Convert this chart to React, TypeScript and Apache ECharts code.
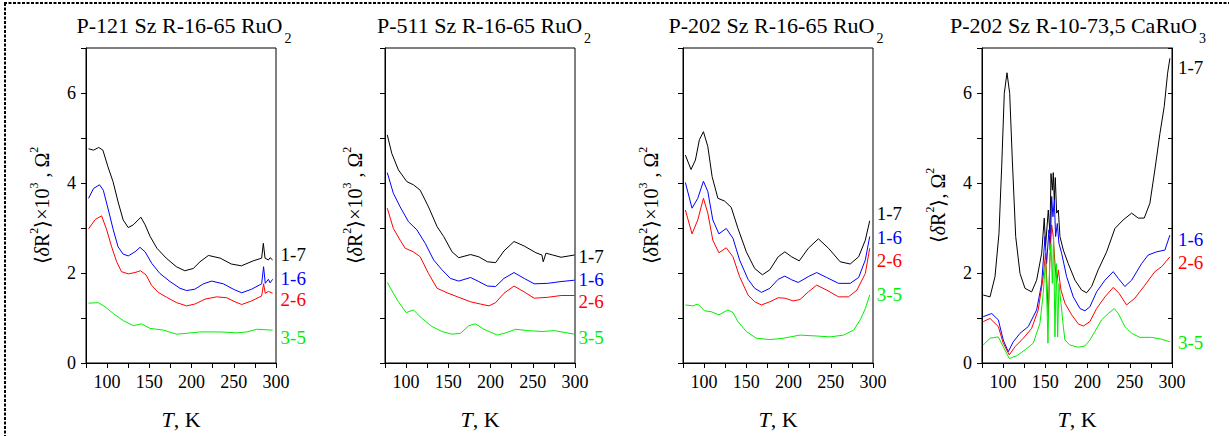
import React, { useEffect, useRef } from "react";
import * as echarts from "echarts";

// ---------- data: [T (K), <dR^2> value] pairs ----------
// Panel 1: P-121 Sz R-16-65 RuO2
const p1_17 = [[78,4.76],[84,4.73],[90,4.79],[95,4.73],[101,4.36],[107,4.03],[113,3.58],[119,3.18],[125,3.01],[131,3.07],[140,3.24],[145,3.07],[151,2.81],[159,2.55],[170,2.33],[182,2.14],[192,2.05],[202,2.1],[210,2.25],[220,2.39],[234,2.33],[247,2.2],[259,2.16],[273,2.27],[283,2.33],[285,2.66],[287,2.33],[291,2.29],[293,2.34],[296,2.29]];
const p1_16 = [[78,3.66],[84,3.88],[91,3.96],[95.5,3.84],[101.5,3.4],[107.3,2.96],[113,2.58],[119,2.42],[125,2.38],[133,2.47],[139,2.57],[145,2.47],[153,2.21],[162.5,1.99],[174.5,1.81],[186.3,1.66],[194.2,1.61],[204,1.64],[214,1.76],[223.8,1.82],[237.6,1.76],[249.5,1.64],[259.4,1.56],[271.2,1.64],[283,1.76],[285.3,2.14],[287.3,1.77],[291,1.86],[293,1.78],[296,1.86]];
const p1_26 = [[78,2.98],[86,3.19],[93.5,3.27],[99.5,2.96],[105.4,2.58],[111.3,2.25],[117,2.03],[125,1.98],[133,2.01],[139.5,2.05],[146,1.96],[152.5,1.73],[160.5,1.57],[170.5,1.46],[182.4,1.34],[194.2,1.27],[204,1.31],[216,1.42],[229.8,1.47],[241.6,1.45],[251.5,1.36],[259.4,1.3],[271.2,1.38],[283,1.49],[285.3,1.76],[287.3,1.55],[291,1.59],[296,1.55]];
const p1_35 = [[78,1.33],[89.6,1.34],[97.5,1.25],[107.3,1.1],[119.2,0.94],[131,0.83],[140.9,0.87],[150.8,0.77],[166.6,0.73],[182.4,0.64],[194.2,0.66],[209.8,0.69],[233.6,0.69],[253.5,0.67],[265.3,0.69],[277.1,0.75],[296,0.73]];

// Panel 2: P-511 Sz R-16-65 RuO2
const p2_17 = [[77.7,5.07],[83,4.66],[90.9,4.29],[100.9,4.03],[108.7,3.96],[116.7,3.84],[126.5,3.47],[136.7,3.03],[144.5,2.81],[154.4,2.47],[162.3,2.34],[176.3,2.41],[186.1,2.36],[196.2,2.25],[206,2.23],[215.9,2.49],[227.8,2.7],[239.8,2.6],[253.7,2.45],[260.8,2.4],[262.4,2.25],[265.6,2.44],[273.6,2.4],[283.5,2.35],[299.4,2.4]];
const p2_16 = [[77.7,4.23],[84.9,3.77],[92.9,3.47],[102.8,3.14],[112.7,2.96],[122.6,2.66],[132.6,2.29],[142.5,2.07],[152.4,1.88],[162.3,1.82],[176.3,1.9],[186.1,1.81],[196.2,1.71],[206,1.7],[215.9,1.88],[227.8,2.01],[239.8,1.88],[251.7,1.76],[267.7,1.77],[283.5,1.81],[299.4,1.84]];
const p2_26 = [[77.7,3.44],[84.9,2.99],[92.9,2.73],[98.9,2.55],[108.7,2.47],[116.7,2.36],[126.5,1.99],[136.7,1.66],[148.5,1.56],[162.3,1.46],[176.3,1.36],[188.1,1.31],[198.1,1.27],[206,1.34],[215.9,1.55],[227.8,1.71],[239.8,1.58],[251.7,1.44],[267.7,1.46],[283.5,1.5],[299.4,1.5]];
const p2_35 = [[77.7,1.79],[84.9,1.55],[90.9,1.36],[100.1,1.12],[108.7,1.18],[118.7,0.99],[130.7,0.81],[142.5,0.7],[154.4,0.64],[164.4,0.66],[174.3,0.83],[182.2,0.87],[192.1,0.75],[208.1,0.62],[217.9,0.67],[229.8,0.75],[243.9,0.72],[260.8,0.7],[275.5,0.72],[299.4,0.64]];

// Panel 3: P-202 Sz R-16-65 RuO2
const p3_17 = [[77.8,4.62],[84.5,4.3],[89.7,4.51],[94.4,4.96],[99.2,5.14],[104.4,4.81],[109.5,4.14],[116.3,3.66],[124.2,3.6],[132.1,3.46],[140.1,2.99],[150,2.47],[159.9,2.1],[169,1.96],[177.8,2.07],[187.7,2.36],[195.6,2.47],[203.6,2.36],[212.7,2.27],[223.4,2.55],[235.3,2.76],[247.3,2.55],[261.1,2.25],[273,2.2],[283,2.36],[290.9,2.73],[296.1,3.16]];
const p3_16 = [[77.8,4.01],[85.7,3.44],[92.5,3.66],[99.2,4.04],[104.4,3.81],[110.3,3.18],[117.5,2.87],[126.2,2.99],[134.2,2.77],[142,2.29],[152,1.86],[159.9,1.66],[167.9,1.57],[177.8,1.66],[187.7,1.86],[195.6,1.93],[203.6,1.85],[211.5,1.79],[223.4,1.92],[233.3,2.01],[245.2,1.9],[259.2,1.77],[273,1.77],[283,1.9],[290.9,2.29],[296.1,2.81]];
const p3_26 = [[77.8,3.4],[85.7,2.87],[92.5,3.18],[99.2,3.66],[104.4,3.33],[110.3,2.73],[117.5,2.45],[126.2,2.56],[134.2,2.36],[142,1.92],[152,1.51],[159.9,1.36],[167.9,1.29],[177.8,1.36],[187.7,1.45],[195.6,1.44],[205.6,1.38],[213.5,1.41],[223.4,1.58],[233.3,1.73],[245.2,1.62],[259.2,1.47],[271,1.47],[281,1.62],[290.9,1.99],[296.1,2.55]];
const p3_35 = [[77.8,1.29],[86.5,1.27],[92.5,1.31],[100.4,1.16],[108.3,1.14],[117.5,1.07],[128.2,1.18],[134.2,1.12],[140.1,0.92],[150,0.7],[161.9,0.55],[177.8,0.52],[193.7,0.55],[213.5,0.62],[233.3,0.6],[249.2,0.58],[265.1,0.62],[277,0.73],[284.9,0.96],[290.9,1.21],[296.1,1.51]];

// Panel 4: P-202 Sz R-10-73,5 CaRuO3
const p4_17 = [[76.5,1.51],[84.5,1.47],[90.4,1.92],[95.1,2.88],[98.3,4.36],[101.4,5.99],[104.6,6.45],[107.8,5.99],[110.9,4.51],[114.9,2.81],[120,1.99],[125.9,1.66],[133.8,1.58],[139.7,1.84],[145.7,2.44],[148.7,3.22],[150.3,2.6],[153.5,3.4],[155.5,2.88],[156.7,4.21],[158.3,3.84],[159.4,4.23],[160.6,3.62],[161.8,4.12],[163.4,3.33],[165.4,3.4],[167.3,2.81],[171.3,2.51],[177.1,2.21],[185.1,1.84],[193,1.62],[198.9,1.56],[204.8,1.7],[212.6,2.07],[222.6,2.47],[232.4,2.99],[242.2,3.18],[252.2,3.33],[260,3.22],[267.1,3.22],[273.8,3.55],[279.7,4.29],[285.7,5.1],[290.8,5.7],[294.8,6.44],[297.5,6.77]];
const p4_16 = [[76.5,1.03],[86.5,1.1],[94.3,0.96],[100.2,0.51],[106.1,0.25],[112,0.47],[120,0.66],[129.8,0.81],[139.7,1.18],[145.7,1.77],[149.6,2.81],[151.5,2.21],[154.3,2.96],[155.8,2.51],[157.5,3.7],[159,3.25],[160.6,3.62],[162.2,2.81],[164.2,3.1],[166.1,2.66],[169.3,2.44],[175.2,1.92],[183.1,1.47],[191,1.21],[196.9,1.16],[202.8,1.25],[210.7,1.58],[220.6,1.84],[230.4,2.03],[236.4,1.88],[244.2,1.7],[252.2,1.84],[264,2.21],[271.8,2.4],[281.7,2.47],[291.6,2.51],[294.8,2.69],[297.5,2.84]];
const p4_26 = [[76.5,0.92],[84.5,0.99],[94.3,0.81],[100.2,0.44],[107.3,0.18],[114,0.36],[123.9,0.55],[133.8,0.77],[141.6,1.18],[147.5,1.92],[150.3,2.44],[151.9,1.77],[153.5,1.03],[155.5,2.37],[157.5,3.07],[159.4,2.81],[161.4,2.21],[163.4,1.77],[165.4,2.07],[168.5,1.62],[173.2,1.33],[181.2,1.07],[189,0.87],[194.9,0.82],[202.8,0.92],[210.7,1.21],[220.6,1.47],[230.4,1.68],[237.2,1.55],[246.2,1.29],[256,1.44],[267.9,1.73],[279.7,2.03],[287.7,2.14],[297.5,2.36]];
const p4_35 = [[76.5,0.4],[84.5,0.55],[94.3,0.58],[100.2,0.36],[107.3,0.1],[116,0.16],[125.9,0.29],[135.7,0.44],[143.6,0.88],[147.5,1.55],[150.3,2.29],[152.3,1.03],[153.1,0.44],[155.1,2.21],[156.7,2.66],[158.3,1.77],[159.8,2.81],[161.4,0.58],[163,2.21],[164.6,0.58],[166.1,1.77],[168.5,1.33],[171.3,0.81],[173.2,0.51],[179.1,0.4],[189,0.35],[196.9,0.38],[202.8,0.51],[208.7,0.7],[216.6,0.96],[224.5,1.1],[231.6,1.21],[236.4,1.1],[244.2,0.81],[252.2,0.66],[262,0.57],[275.8,0.57],[287.7,0.53],[297.5,0.47]];

const panelTitles = ["P-121 Sz R-16-65 RuO", "P-511 Sz R-16-65 RuO", "P-202 Sz R-16-65 RuO", "P-202 Sz R-10-73,5 CaRuO"];
const titleSubs = ["2", "2", "2", "3"];
const curveNames = ["1-7", "1-6", "2-6", "3-5"];
const panelData = [
  [p1_17, p1_16, p1_26, p1_35],
  [p2_17, p2_16, p2_26, p2_35],
  [p3_17, p3_16, p3_26, p3_35],
  [p4_17, p4_16, p4_26, p4_35],
];
const xTicks = { min: 75, max: 300, step: 25 };
const yTicks = { min: 0, max: 7, step: 1 };

// ---------- styling / layout ----------
const SERIF = "Liberation Serif";
const COLORS = ["#000000", "#0000ff", "#ff0000", "#00ee00"];
const GRID_LEFT = [86, 385, 683, 982];
const GRID_TOP = 48;
const GRID_W = 190;
const GRID_H = 315;
const TITLE_CX = [184, 484, 776, 1078];
const LABEL_DIST = [8, 4, 7, 8];
const LABEL_DY = [
  [-5, -1, 6, 7],
  [1, -1, 6, 3],
  [-7, 1, 12, -1],
  [9, 4, 6, 1],
];
const Y_NAME_GAP = [34, 20, 22, 34];

const baseRich = {
  a: { fontFamily: SERIF, fontSize: 20, color: "#000", lineHeight: 24, verticalAlign: "bottom" },
  i: { fontFamily: SERIF, fontSize: 20, fontStyle: "italic", color: "#000", lineHeight: 24, verticalAlign: "bottom" },
  s: { fontFamily: SERIF, fontSize: 12, color: "#000", lineHeight: 12, verticalAlign: "top" },
};

export default function App() {
  const ref = useRef<HTMLDivElement>(null);
  useEffect(() => {
    if (!ref.current) return;
    const chart = echarts.init(ref.current, null, { renderer: "svg" });

    const grids = GRID_LEFT.map((l) => ({
      left: l, top: GRID_TOP, width: GRID_W, height: GRID_H,
      show: true, borderColor: "#000", borderWidth: 1, backgroundColor: "transparent",
    }));

    const xAxes = GRID_LEFT.map((_, i) => ({
      type: "value", gridIndex: i, min: xTicks.min, max: xTicks.max, interval: xTicks.step,
      axisLine: { show: true, onZero: false, lineStyle: { color: "#000", width: 1 } },
      axisTick: { show: true, length: 5, lineStyle: { color: "#000", width: 1 } },
      axisLabel: {
        show: true, showMinLabel: true, showMaxLabel: true, margin: 10,
        fontFamily: SERIF, fontSize: 18, color: "#000",
        formatter: (v: number) => (v % 50 === 0 && v >= 100 ? String(v) : ""),
      },
      splitLine: { show: false },
      name: "{i|T}{a|, K}",
      nameLocation: "middle",
      nameGap: 43,
      nameTextStyle: {
        fontFamily: SERIF,
        rich: {
          a: { fontFamily: SERIF, fontSize: 22, color: "#000", lineHeight: 26 },
          i: { fontFamily: SERIF, fontSize: 22, fontStyle: "italic", color: "#000", lineHeight: 26 },
        },
      },
    }));

    const yAxes: any[] = GRID_LEFT.map((_, i) => ({
      type: "value", gridIndex: i, min: yTicks.min, max: yTicks.max, interval: yTicks.step,
      position: "left",
      axisLine: { show: true, onZero: false, lineStyle: { color: "#000", width: 1 } },
      axisTick: { show: true, length: 5, lineStyle: { color: "#000", width: 1 } },
      axisLabel: {
        show: i === 0 || i === 3, showMinLabel: true, margin: 10,
        fontFamily: SERIF, fontSize: 18, color: "#000",
        formatter: (v: number) => (v % 2 === 0 ? String(v) : ""),
      },
      splitLine: { show: false },
      name: i === 3
        ? "{a|⟨}{i|δ}{a|R}{s|2}{a|⟩, Ω}{s|2}"
        : "{a|⟨}{i|δ}{a|R}{s|2}{a|⟩×10}{s|3}{a| , Ω}{s|2}",
      nameLocation: "middle",
      nameGap: Y_NAME_GAP[i],
      nameTextStyle: { fontFamily: SERIF, rich: baseRich },
    }));
    yAxes.push({
      type: "value", gridIndex: 3, min: yTicks.min, max: yTicks.max, interval: yTicks.step,
      position: "right",
      axisLine: { show: true, onZero: false, lineStyle: { color: "#000", width: 1 } },
      axisTick: { show: true, inside: true, length: 4, lineStyle: { color: "#000", width: 1 } },
      axisLabel: { show: false },
      splitLine: { show: false },
    });

    const series: any[] = [];
    panelData.forEach((curves, p) => {
      curves.forEach((data, c) => {
        series.push({
          type: "line",
          xAxisIndex: p,
          yAxisIndex: p,
          data,
          showSymbol: false,
          symbol: "none",
          silent: true,
          lineStyle: { color: COLORS[c], width: 1 },
          itemStyle: { color: COLORS[c] },
          endLabel: {
            show: true,
            formatter: curveNames[c],
            color: COLORS[c],
            fontFamily: SERIF,
            fontSize: 19,
            lineHeight: 18,
            distance: LABEL_DIST[p],
            offset: [0, LABEL_DY[p][c]],
          },
        });
      });
    });

    const graphics: any[] = panelTitles.map((t, i) => ({
      type: "text",
      x: TITLE_CX[i],
      y: 14,
      style: {
        text: `{m|${t}}{b|${titleSubs[i]}}`,
        textAlign: "center",
        textVerticalAlign: "top",
        fontFamily: SERIF,
        rich: {
          m: { fontFamily: SERIF, fontSize: 22, color: "#000", lineHeight: 26, verticalAlign: "top" },
          b: { fontFamily: SERIF, fontSize: 14, color: "#000", lineHeight: 14, padding: [17, 0, 0, 2], verticalAlign: "top" },
        },
      },
    }));
    graphics.push({
      type: "line",
      shape: { x1: 4, y1: 3, x2: 1229, y2: 3 },
      style: { stroke: "#000", lineWidth: 2, lineDash: [3, 1.5] },
    });
    graphics.push({
      type: "line",
      shape: { x1: 5, y1: 3, x2: 5, y2: 436 },
      style: { stroke: "#000", lineWidth: 2, lineDash: [3, 1.5] },
    });

    chart.setOption({
      animation: false,
      backgroundColor: "#fff",
      textStyle: { fontFamily: SERIF },
      grid: grids,
      xAxis: xAxes,
      yAxis: yAxes,
      series,
      graphic: graphics,
    });
    return () => chart.dispose();
  }, []);

  return (
    <div
      ref={ref}
      style={{ position: "absolute", left: 0, top: 0, width: 1229, height: 436 }}
    />
  );
}
